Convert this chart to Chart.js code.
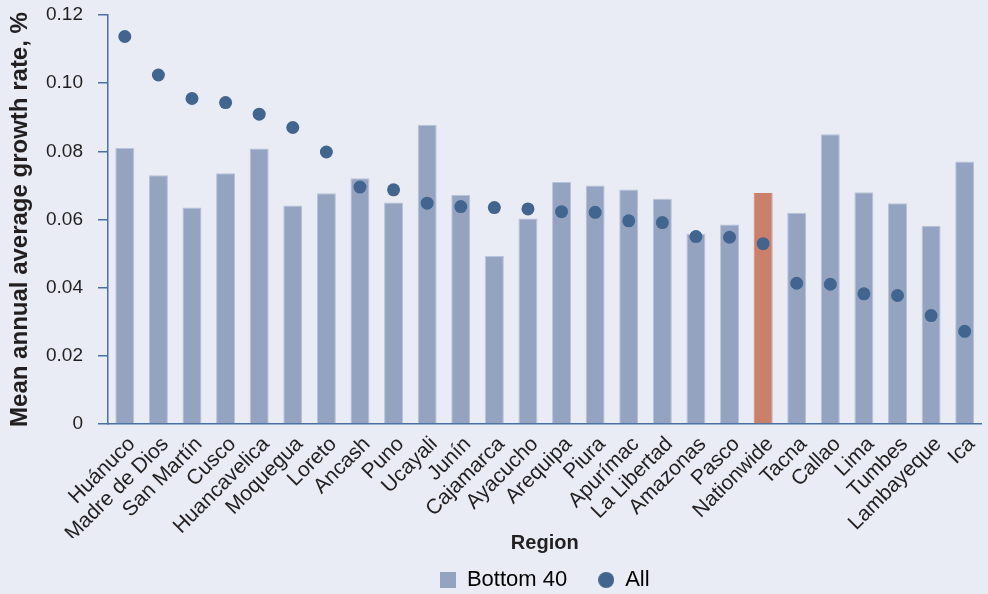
<!DOCTYPE html>
<html>
<head>
<meta charset="utf-8">
<script src="https://cdn.jsdelivr.net/npm/chart.js@4.4.1/dist/chart.umd.min.js"></script>
<style>
  html, body { margin: 0; padding: 0; background: #e9ecf4; }
  #wrap { width: 988px; height: 594px; }
</style>
</head>
<body>
<div id="wrap"><canvas id="growthChart"></canvas></div>
<script>
"use strict";

/**************************************************************
 * Data
 **************************************************************/
const regions = [
  "Huánuco", "Madre de Dios", "San Martín", "Cusco", "Huancavelica",
  "Moquegua", "Loreto", "Ancash", "Puno", "Ucayali", "Junín",
  "Cajamarca", "Ayacucho", "Arequipa", "Piura", "Apurímac",
  "La Libertad", "Amazonas", "Pasco", "Nationwide", "Tacna", "Callao",
  "Lima", "Tumbes", "Lambayeque", "Ica",
];

const bottom40 = [
  0.0810, 0.0730, 0.0635, 0.0736, 0.0808, 0.0641, 0.0677, 0.0721, 0.0650,
  0.0878, 0.0672, 0.0493, 0.0603, 0.0710, 0.0700, 0.0688, 0.0661, 0.0558,
  0.0585, 0.0678, 0.0620, 0.0850, 0.0680, 0.0648, 0.0582, 0.0770,
];

const allHouseholds = [
  0.1137, 0.1024, 0.0955, 0.0943, 0.0909, 0.0870, 0.0798, 0.0695, 0.0687,
  0.0648, 0.0638, 0.0635, 0.0631, 0.0623, 0.0621, 0.0596, 0.0591, 0.0550,
  0.0548, 0.0529, 0.0413, 0.0410, 0.0382, 0.0377, 0.0318, 0.0272,
];

const yTickLabels = ["0", "0.02", "0.04", "0.06", "0.08", "0.10", "0.12"];

/**************************************************************
 * Styles
 **************************************************************/
const BAR_COLOR = "#94a4c0";
const NATION_COLOR = "#cb806c";
const DOT_COLOR = "#41658f";
const AXIS_COLOR = "#4a70a3";
const TEXT_COLOR = "#231f20";
const FONT = "'Liberation Sans', Arial, Helvetica, sans-serif";

function legendSwatch(shape, color) {
  const c = document.createElement("canvas");
  c.width = 16;
  c.height = 16;
  const g = c.getContext("2d");
  g.fillStyle = color;
  if (shape === "circle") {
    g.beginPath();
    g.arc(8, 8, 8, 0, Math.PI * 2);
    g.fill();
  } else {
    g.fillRect(0, 0, 16, 16);
  }
  return c;
}

/**************************************************************
 * Chart
 **************************************************************/
const ctx = document.getElementById("growthChart").getContext("2d");

new Chart(ctx, {
  type: "bar",
  data: {
    labels: regions,
    datasets: [
      {
        label: "Bottom 40",
        data: bottom40,
        backgroundColor: regions.map((r) => (r === "Nationwide" ? NATION_COLOR : BAR_COLOR)),
        borderColor: regions.map((r) => (r === "Nationwide" ? NATION_COLOR : "#b8c2d8")),
        borderWidth: 1,
        borderSkipped: "bottom",
        categoryPercentage: 0.565,
        barPercentage: 1,
        order: 2,
      },
      {
        type: "line",
        label: "All",
        data: allHouseholds,
        showLine: false,
        pointRadius: 6.5,
        pointBackgroundColor: DOT_COLOR,
        pointBorderWidth: 0,
        order: 1,
      },
    ],
  },
  options: {
    responsive: true,
    maintainAspectRatio: false,
    animation: false,
    events: [],
    layout: { padding: { top: 15, right: 5, left: 0, bottom: 0 } },
    scales: {
      x: {
        grid: { display: false },
        border: { display: true, color: AXIS_COLOR, width: 1.5 },
        ticks: {
          color: TEXT_COLOR,
          font: { family: FONT, size: 21 },
          minRotation: 45,
          maxRotation: 45,
          autoSkip: false,
          padding: 0,
          labelOffset: 7,
        },
        title: {
          display: true,
          text: "Region",
          color: TEXT_COLOR,
          font: { family: FONT, size: 20, weight: "bold" },
          padding: { top: 0, bottom: -17 },
        },
        afterFit: (scale) => {
          scale.height = 114;
        },
      },
      y: {
        min: 0,
        max: 0.12,
        ticks: {
          stepSize: 0.02,
          color: TEXT_COLOR,
          font: { family: FONT, size: 19 },
          padding: 15,
          callback: (value, index) => yTickLabels[index],
        },
        grid: {
          display: true,
          drawOnChartArea: false,
          drawTicks: true,
          tickLength: 10,
          color: AXIS_COLOR,
          lineWidth: 1.5,
        },
        border: { display: true, color: AXIS_COLOR, width: 1.5 },
        title: {
          display: true,
          text: "Mean annual average growth rate, %",
          color: TEXT_COLOR,
          font: { family: FONT, size: 24, weight: "bold" },
          padding: { top: 6, bottom: 0 },
        },
        afterFit: (scale) => {
          scale.width = 108;
          // tick padding would otherwise push the plot area down
          scale.paddingTop = 10;
          scale.paddingBottom = 10;
        },
      },
    },
    plugins: {
      tooltip: { enabled: false },
      legend: {
        position: "bottom",
        fullSize: false,
        maxHeight: 56,
        labels: {
          usePointStyle: true,
          boxWidth: 16,
          boxHeight: 16,
          padding: 31,
          color: TEXT_COLOR,
          font: { family: FONT, size: 22 },
          generateLabels: () => [
            {
              text: "Bottom 40",
              pointStyle: legendSwatch("rect", BAR_COLOR),
              fillStyle: BAR_COLOR,
              lineWidth: 0,
              datasetIndex: 0,
            },
            {
              text: "All",
              pointStyle: legendSwatch("circle", DOT_COLOR),
              fillStyle: DOT_COLOR,
              lineWidth: 0,
              datasetIndex: 1,
            },
          ],
        },
      },
    },
  },
});
</script>
</body>
</html>
